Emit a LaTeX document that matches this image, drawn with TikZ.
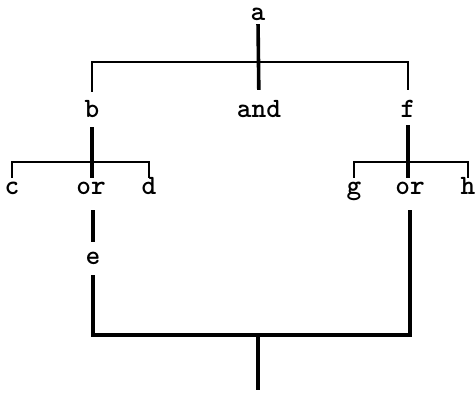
\documentclass[tikz,border=0pt]{standalone}
\usepackage{fontspec}
\usetikzlibrary{calc}
\tikzset{
  lbl/.style={inner sep=0pt,text height=12pt,text depth=0pt,
    font=\ttfamily\bfseries\fontsize{28}{30}\selectfont},
  wire/.style={draw=black,line width=3.6pt},
  bar/.style={draw=black,line width=2.6pt}
}
\begin{document}
\begin{tikzpicture}[x=1pt,y=-1pt]
  \useasboundingbox (0,0) rectangle (476,395);

  % labels
  \node[lbl] (a)   at (258,15)  {a};
  \node[lbl] (b)   at (92,112)  {b};
  \node[lbl] (and) at (259,112) {and};
  \node[lbl] (f)   at (408,112) {f};
  \node[lbl] (c)   at (12,189)  {c};
  \node[lbl] (or1) at (91,189)  {or};
  \node[lbl] (d)   at (149,189) {d};
  \node[lbl] (g)   at (354,189) {g};
  \node[lbl] (or2) at (410,189) {or};
  \node[lbl] (h)   at (468,189) {h};
  \node[lbl] (e)   at (93,259)  {e};

  \coordinate (top)  at (258,62);
  \coordinate (left) at (92,162);
  \coordinate (right) at (408,162);
  \coordinate (join) at (258,335);
  \coordinate (tail) at (258,390);

  % and-branch
  \draw[wire,shorten <=3pt,shorten >=16pt] (a.south) -- (and.north);
  \draw[bar,shorten <=14pt,shorten >=16pt] (b.north) -- (b.north |- top) -- (f.north |- top) -- (f.north);

  % or-branches
  \draw[wire,shorten <=9pt,shorten >=5pt] (b.south) -- (b.south |- or1.north);
  \draw[bar,shorten <=5pt,shorten >=5pt] (c.north) -- (c.north |- left) -- (d.north |- left) -- (d.north);
  \draw[wire,shorten <=7pt,shorten >=5pt] (f.south) -- (f.south |- or2.north);
  \draw[bar,shorten <=5pt,shorten >=5pt] (g.north) -- (g.north |- right) -- (h.north |- right) -- (h.north);

  % merge
  \draw[wire,shorten <=15pt,shorten >=11pt] (or1.south -| e) -- (e.north);
  \draw[wire,shorten <=10pt,shorten >=15pt] (e.south) -- (e.south |- join) -- (or2.south |- join) -- (or2.south);
  \draw[wire] (join) -- (tail);
\end{tikzpicture}
\end{document}
